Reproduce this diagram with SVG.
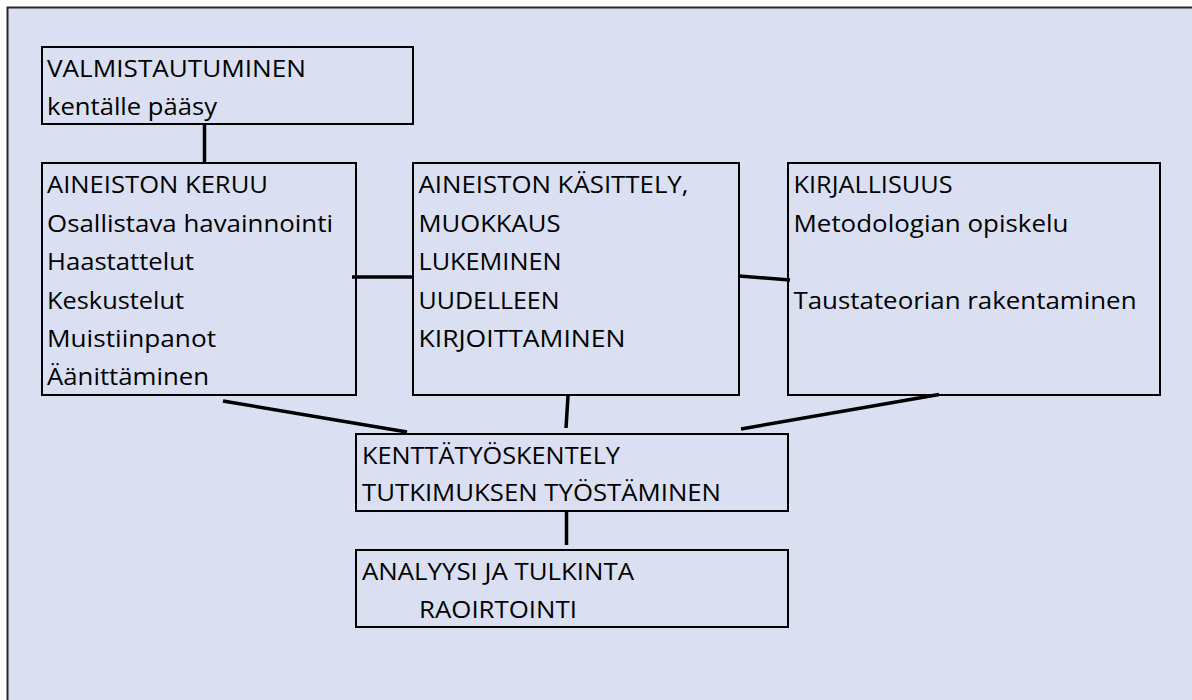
<svg xmlns="http://www.w3.org/2000/svg" width="1192" height="700" viewBox="0 0 1192 700">
<style>
  .bg { fill: #DAE0F2; stroke: #262626; stroke-width: 2; }
  .box { fill: none; stroke: #000; stroke-width: 2; }
  .conn line { stroke: #000; stroke-width: 3.5; stroke-linecap: butt; }
  text { font-family: "Open Sans", "Noto Sans", "Liberation Sans", sans-serif; font-size: 24px; fill: #000; }
</style>
<rect x="0" y="0" width="1192" height="700" fill="#FFFFFF"/>
<rect class="bg" x="7.5" y="7.5" width="1200" height="710"/>
<g id="connectors" class="conn">
  <line x1="204.5" y1="124" x2="204.5" y2="163"/>
  <line x1="352" y1="277" x2="413" y2="277"/>
  <line x1="739" y1="276" x2="790" y2="280"/>
  <line x1="223" y1="401" x2="407" y2="432"/>
  <line x1="568" y1="396" x2="566" y2="428"/>
  <line x1="939" y1="394.5" x2="741" y2="429"/>
  <line x1="566.5" y1="511" x2="566.5" y2="545"/>
</g>
<g id="valmistautuminen">
  <rect class="box" x="42" y="47" width="371" height="77"/>
  <text x="47" y="77" textLength="259" lengthAdjust="spacingAndGlyphs">VALMISTAUTUMINEN</text>
  <text x="47" y="115" textLength="170" lengthAdjust="spacingAndGlyphs">kentälle pääsy</text>
</g>
<g id="keruu">
  <rect class="box" x="42" y="163" width="314" height="232"/>
  <text x="47" y="193" textLength="221" lengthAdjust="spacingAndGlyphs">AINEISTON KERUU</text>
  <text x="47" y="231.5" textLength="286" lengthAdjust="spacingAndGlyphs">Osallistava havainnointi</text>
  <text x="47" y="270" textLength="147" lengthAdjust="spacingAndGlyphs">Haastattelut</text>
  <text x="47" y="308.5" textLength="137" lengthAdjust="spacingAndGlyphs">Keskustelut</text>
  <text x="47" y="347" textLength="169" lengthAdjust="spacingAndGlyphs">Muistiinpanot</text>
  <text x="47" y="385" textLength="162" lengthAdjust="spacingAndGlyphs">Äänittäminen</text>
</g>
<g id="kasittely">
  <rect class="box" x="413" y="163" width="326" height="232"/>
  <text x="418.5" y="193" textLength="270" lengthAdjust="spacingAndGlyphs">AINEISTON KÄSITTELY,</text>
  <text x="418.5" y="231.5" textLength="142" lengthAdjust="spacingAndGlyphs">MUOKKAUS</text>
  <text x="418.5" y="270" textLength="143" lengthAdjust="spacingAndGlyphs">LUKEMINEN</text>
  <text x="418.5" y="308.5" textLength="141" lengthAdjust="spacingAndGlyphs">UUDELLEEN</text>
  <text x="418.5" y="347" textLength="207" lengthAdjust="spacingAndGlyphs">KIRJOITTAMINEN</text>
</g>
<g id="kirjallisuus">
  <rect class="box" x="788" y="163" width="372" height="232"/>
  <text x="793.5" y="193" textLength="159" lengthAdjust="spacingAndGlyphs">KIRJALLISUUS</text>
  <text x="793.5" y="231.5" textLength="275" lengthAdjust="spacingAndGlyphs">Metodologian opiskelu</text>
  <text x="793.5" y="308.5" textLength="343" lengthAdjust="spacingAndGlyphs">Taustateorian rakentaminen</text>
</g>
<g id="kenttatyoskentely">
  <rect class="box" x="356" y="434" width="432" height="77"/>
  <text x="362" y="463.5" textLength="258" lengthAdjust="spacingAndGlyphs">KENTTÄTYÖSKENTELY</text>
  <text x="362" y="501" textLength="359" lengthAdjust="spacingAndGlyphs">TUTKIMUKSEN TYÖSTÄMINEN</text>
</g>
<g id="analyysi">
  <rect class="box" x="356" y="550" width="432" height="77"/>
  <text x="362" y="580" textLength="272" lengthAdjust="spacingAndGlyphs">ANALYYSI JA TULKINTA</text>
  <text x="419" y="618" textLength="158" lengthAdjust="spacingAndGlyphs">RAOIRTOINTI</text>
</g>
</svg>
